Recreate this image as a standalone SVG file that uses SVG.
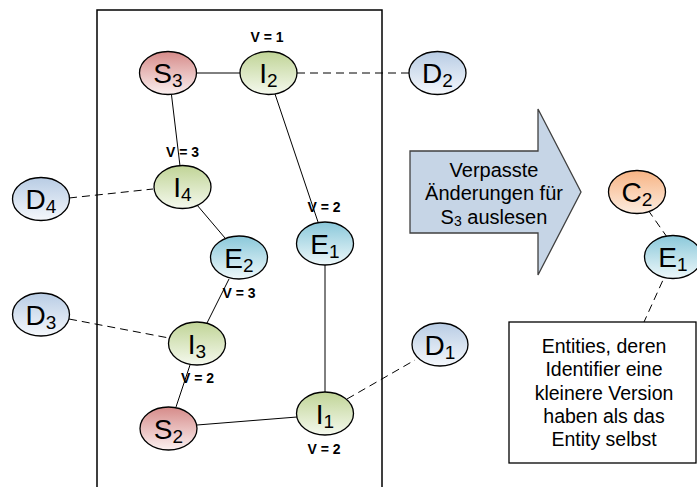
<svg xmlns="http://www.w3.org/2000/svg" width="697" height="487" viewBox="0 0 697 487">
<defs>
<linearGradient id="gS" x1="0" y1="0" x2="0" y2="1"><stop offset="0" stop-color="#d68b89"/><stop offset="1" stop-color="#fbf0f0"/></linearGradient>
<linearGradient id="gI" x1="0" y1="0" x2="0" y2="1"><stop offset="0" stop-color="#c0d496"/><stop offset="1" stop-color="#f5f9ee"/></linearGradient>
<linearGradient id="gE" x1="0" y1="0" x2="0" y2="1"><stop offset="0" stop-color="#8ac8da"/><stop offset="1" stop-color="#eef8fa"/></linearGradient>
<linearGradient id="gD" x1="0" y1="0" x2="0" y2="1"><stop offset="0" stop-color="#b8cce4"/><stop offset="1" stop-color="#f5f8fc"/></linearGradient>
<linearGradient id="gC" x1="0" y1="0" x2="0" y2="1"><stop offset="0" stop-color="#f7b383"/><stop offset="1" stop-color="#fdede0"/></linearGradient>
</defs>
<style>
.n{stroke:#000;stroke-width:1.3}
.S{fill:url(#gS)}.I{fill:url(#gI)}.E{fill:url(#gE)}.D{fill:url(#gD)}.C{fill:url(#gC)}
.lab{font-family:"Liberation Sans",Arial,sans-serif;font-size:28px;text-anchor:middle;fill:#000}
.sub{font-size:19px}
.v{font-family:"Liberation Sans",Arial,sans-serif;font-size:14px;font-weight:bold;text-anchor:middle;fill:#000}
.t{font-family:"Liberation Sans",Arial,sans-serif;font-size:19.5px;text-anchor:middle;fill:#000}
.sol{stroke:#000;stroke-width:1;fill:none}
.dash{stroke:#000;stroke-width:1;fill:none;stroke-dasharray:8 5}
</style>
<rect id="frame" x="97" y="10" width="285" height="490" fill="none" stroke="#000" stroke-width="1.5"/>
<g id="connectors">
<line class="sol" x1="196" y1="73" x2="240" y2="73"/>
<line class="sol" x1="171.5" y1="95" x2="180" y2="166"/>
<line class="sol" x1="275" y1="94" x2="318" y2="222"/>
<line class="sol" x1="197" y1="205" x2="225" y2="238"/>
<line class="sol" x1="229" y1="279" x2="207" y2="323"/>
<line class="sol" x1="190" y1="365" x2="176" y2="407"/>
<line class="sol" x1="197" y1="425" x2="297" y2="417"/>
<line class="sol" x1="325" y1="265" x2="325" y2="392"/>
<line class="dash" x1="297" y1="73" x2="409" y2="73"/>
<line class="dash" x1="69" y1="198" x2="153" y2="189"/>
<line class="dash" x1="69" y1="319" x2="169" y2="338"/>
<line class="dash" x1="347" y1="399" x2="415" y2="360"/>
<line class="dash" x1="648" y1="210" x2="667" y2="237"/>
<line class="dash" x1="668" y1="269" x2="644" y2="322"/>
</g>
<g id="S3"><ellipse class="n S" cx="168" cy="73" rx="28.5" ry="21.5"/><text class="lab" x="168" y="83">S<tspan class="sub" dy="4">3</tspan></text></g>
<g id="I2"><ellipse class="n I" cx="268.5" cy="73" rx="28.5" ry="21.5"/><text class="lab" x="268.5" y="83">I<tspan class="sub" dy="4">2</tspan></text></g>
<g id="D2"><ellipse class="n D" cx="437.5" cy="73" rx="28.5" ry="21.5"/><text class="lab" x="437.5" y="83">D<tspan class="sub" dy="4">2</tspan></text></g>
<g id="I4"><ellipse class="n I" cx="182.5" cy="187" rx="28.5" ry="21.5"/><text class="lab" x="182.5" y="197">I<tspan class="sub" dy="4">4</tspan></text></g>
<g id="D4"><ellipse class="n D" cx="41" cy="199" rx="28.5" ry="21.5"/><text class="lab" x="41" y="209">D<tspan class="sub" dy="4">4</tspan></text></g>
<g id="E2"><ellipse class="n E" cx="239" cy="257.5" rx="28.5" ry="21.5"/><text class="lab" x="239" y="267.5">E<tspan class="sub" dy="4">2</tspan></text></g>
<g id="E1"><ellipse class="n E" cx="325" cy="243.5" rx="28.5" ry="21.5"/><text class="lab" x="325" y="253.5">E<tspan class="sub" dy="4">1</tspan></text></g>
<g id="D3"><ellipse class="n D" cx="41" cy="314.5" rx="28.5" ry="21.5"/><text class="lab" x="41" y="324.5">D<tspan class="sub" dy="4">3</tspan></text></g>
<g id="I3"><ellipse class="n I" cx="197" cy="343.5" rx="28.5" ry="21.5"/><text class="lab" x="197" y="353.5">I<tspan class="sub" dy="4">3</tspan></text></g>
<g id="D1"><ellipse class="n D" cx="440" cy="344.5" rx="28" ry="21.5"/><text class="lab" x="440" y="354.5">D<tspan class="sub" dy="4">1</tspan></text></g>
<g id="S2"><ellipse class="n S" cx="168.5" cy="428.5" rx="28.5" ry="21.5"/><text class="lab" x="168.5" y="438.5">S<tspan class="sub" dy="4">2</tspan></text></g>
<g id="I1"><ellipse class="n I" cx="325" cy="413.5" rx="28.5" ry="21.5"/><text class="lab" x="325" y="423.5">I<tspan class="sub" dy="4">1</tspan></text></g>
<g id="C2"><ellipse class="n C" cx="637" cy="192" rx="28.5" ry="21.5"/><text class="lab" x="637" y="202">C<tspan class="sub" dy="4">2</tspan></text></g>
<g id="E1r"><ellipse class="n E" cx="673" cy="257" rx="28.5" ry="21.5"/><text class="lab" x="673" y="267">E<tspan class="sub" dy="4">1</tspan></text></g>
<g id="vlabels">
<text class="v" x="267" y="42">V = 1</text>
<text class="v" x="182.5" y="156.5">V = 3</text>
<text class="v" x="324" y="212">V = 2</text>
<text class="v" x="239" y="298">V = 3</text>
<text class="v" x="197.5" y="383">V = 2</text>
<text class="v" x="324" y="453.5">V = 2</text>
</g>
<g id="arrow">
<path d="M410,151 L538,151 L538,109 L581,192 L538,275 L538,233 L410,233 Z" fill="#c6d5e6" stroke="#404040" stroke-width="1.3"/>
<text class="t" x="494" y="176.7" style="font-size:20px">Verpasste</text>
<text class="t" x="494" y="200.2" style="font-size:20px">Änderungen für</text>
<text class="t" x="494" y="223.5" style="font-size:20px">S<tspan style="font-size:14px" dy="2">3</tspan><tspan dy="-2"> auslesen</tspan></text>
</g>
<g id="note">
<rect x="509" y="322" width="187" height="141" fill="#fff" stroke="#000" stroke-width="1.3"/>
<text class="t" x="604" y="353">Entities, deren</text>
<text class="t" x="604" y="376.3">Identifier eine</text>
<text class="t" x="604" y="399.6">kleinere Version</text>
<text class="t" x="604" y="423">haben als das</text>
<text class="t" x="604" y="446.3">Entity selbst</text>
</g>
</svg>
